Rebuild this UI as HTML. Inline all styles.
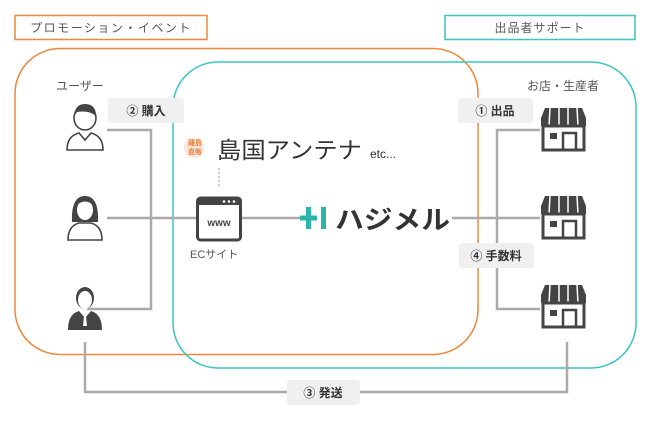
<!DOCTYPE html>
<html><head><meta charset="utf-8"><style>
body{margin:0;width:650px;height:423px;background:#fff;overflow:hidden;font-family:"Liberation Sans","Noto Sans CJK JP",sans-serif;}
svg text{font-family:"Liberation Sans","Noto Sans CJK JP",sans-serif;}
</style></head><body>
<svg width="650" height="423" viewBox="0 0 650 423" xmlns="http://www.w3.org/2000/svg">
<rect x="15" y="15.5" width="192" height="24" fill="none" stroke="#f0873a" stroke-width="1.5"/>
<text x="111" y="32" font-size="12" fill="#555" text-anchor="middle" letter-spacing="1.5">プロモーション・イベント</text>
<rect x="445" y="15.5" width="190" height="24" fill="none" stroke="#3cc6c0" stroke-width="1.5"/>
<text x="540" y="32" font-size="12" fill="#555" text-anchor="middle" letter-spacing="1">出品者サポート</text>
<rect x="15" y="48.5" width="463" height="306" rx="45" fill="none" stroke="#f0873a" stroke-width="1.5"/>
<rect x="173" y="62" width="463" height="306" rx="45" fill="none" stroke="#3cc6c0" stroke-width="1.5"/>
<text x="80" y="90" font-size="12" fill="#555" text-anchor="middle">ユーザー</text>
<text x="563" y="90" font-size="12" fill="#555" text-anchor="middle">お店・生産者</text>
<g stroke="#aaa" stroke-width="2.5" fill="none">
<polyline points="107,130 151,130 151,309 87,309"/>
<line x1="107" y1="218" x2="196" y2="218"/>
<line x1="242" y1="218" x2="300" y2="218"/>
<line x1="452" y1="218" x2="540" y2="218"/>
<polyline points="540,130 497,130 497,309 540,309"/>
<polyline points="85,342 85,392 567,392 567,342"/>
</g>
<line x1="219" y1="168" x2="219" y2="188" stroke="#bbb" stroke-width="1.5" stroke-dasharray="2,2"/>
<g font-size="12" font-weight="bold" fill="#333" text-anchor="middle">
<rect x="108" y="98" width="76" height="25" rx="3" fill="#f0f0f0"/><text x="146" y="115" fill="#333">② 購入</text>
<rect x="458" y="98" width="75" height="25" rx="3" fill="#f0f0f0"/><text x="495" y="115" fill="#333">① 出品</text>
<rect x="459" y="243" width="75" height="25" rx="3" fill="#f0f0f0"/><text x="496" y="260" fill="#333">④ 手数料</text>
<rect x="287" y="380" width="73" height="25" rx="3" fill="#f0f0f0"/><text x="323" y="397" fill="#333">③ 発送</text>
</g>
<g fill="#444">
<g transform="translate(85,0)">
<ellipse cx="0" cy="118" rx="11" ry="12" fill="#fff" stroke="#444" stroke-width="1.6"/>
<path d="M-11,116 Q-10,104 0,104 Q11,104 11,116 Q4,110 -8,112Z"/>
<path d="M-18,150 Q-18,136 -6,133 L0,140 L6,133 Q18,136 18,150Z" fill="#fff" stroke="#444" stroke-width="1.6"/>
</g>
<g transform="translate(85,0)">
<path d="M-13,222 Q-14,196 0,196 Q14,196 13,222Z"/>
<ellipse cx="0" cy="210" rx="8" ry="10" fill="#fff"/>
<path d="M-8,205 Q0,198 8,205 L8,200 Q0,194 -8,200Z"/>
<path d="M-17,240 Q-17,226 -6,223 L6,223 Q17,226 17,240Z" fill="#fff" stroke="#444" stroke-width="1.6"/>
</g>
<g transform="translate(85,0)">
<ellipse cx="0" cy="298" rx="9" ry="11"/>
<ellipse cx="0" cy="300" rx="7" ry="9" fill="#fff"/>
<path d="M-17,330 Q-17,314 -6,311 L0,318 L6,311 Q17,314 17,330Z"/>
<path d="M-1,316 L1,316 L2,326 L-2,326Z" fill="#fff"/>
</g>
</g>
<g id="shop">
<path d="M541,118 L545,108 L582,108 L586,118 L586,126 L541,126Z" fill="#444"/>
<g stroke="#fff" stroke-width="1.5"><line x1="550" y1="108" x2="549" y2="126"/><line x1="559" y1="108" x2="559" y2="126"/><line x1="568" y1="108" x2="568" y2="126"/><line x1="577" y1="108" x2="578" y2="126"/></g>
<rect x="543" y="126" width="41" height="24" fill="none" stroke="#444" stroke-width="3"/>
<rect x="550" y="133" width="7" height="6" fill="#444"/>
<rect x="563" y="133" width="13" height="17" fill="none" stroke="#444" stroke-width="2.5"/>
</g>
<use href="#shop" y="88"/>
<use href="#shop" y="177"/>
<rect x="197.5" y="198" width="43" height="42" rx="3" fill="#fff" stroke="#444" stroke-width="3"/>
<rect x="197.5" y="198" width="43" height="7" fill="#444"/>
<g fill="#fff"><circle cx="224" cy="201.5" r="1.3"/><circle cx="229" cy="201.5" r="1.3"/><circle cx="234" cy="201.5" r="1.3"/></g>
<text x="219" y="226" font-size="10" font-weight="bold" fill="#444" text-anchor="middle">www</text>
<text x="190" y="258" font-size="11" fill="#555">ECサイト</text>
<circle cx="194" cy="148" r="10" fill="#fde8e0"/>
<text x="195" y="145" font-size="7" fill="#e8823a" text-anchor="middle" font-weight="bold">離島</text>
<text x="195" y="154" font-size="7" fill="#e8823a" text-anchor="middle" font-weight="bold">直販</text>
<text x="217" y="158" font-size="23" fill="#333" textLength="145" lengthAdjust="spacingAndGlyphs">島国アンテナ</text>
<text x="370" y="158" font-size="12" fill="#333">etc...</text>
<rect x="306" y="207" width="5" height="22" fill="#2bb5a8"/>
<rect x="300" y="215.5" width="17" height="5" fill="#2bb5a8"/>
<rect x="321" y="207" width="5" height="22" fill="#2bb5a8"/>
<text x="335" y="229" font-size="26" font-weight="bold" fill="#333" textLength="115" lengthAdjust="spacingAndGlyphs">ハジメル</text>
</svg>
</body></html>
